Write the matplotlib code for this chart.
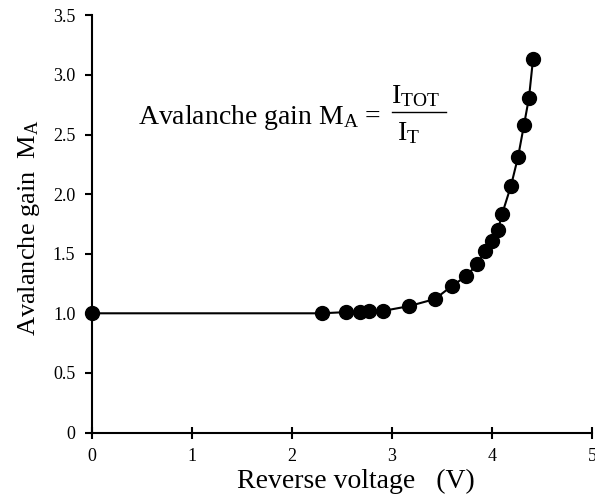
import matplotlib
matplotlib.use("Agg")
import matplotlib.pyplot as plt

plt.rcParams['font.family'] = ['Liberation Serif', 'DejaVu Serif']
plt.rcParams['mathtext.fontset'] = 'custom'
plt.rcParams['mathtext.rm'] = 'Liberation Serif'
plt.rcParams['mathtext.it'] = 'Liberation Serif:italic'
plt.rcParams['mathtext.bf'] = 'Liberation Serif:bold'

voltage = [0.0, 2.30, 2.54, 2.68, 2.77, 2.91, 3.17, 3.43, 3.60, 3.74, 3.85,
           3.93, 4.00, 4.06, 4.10, 4.19, 4.26, 4.32, 4.37, 4.41]
gain = [1.00, 1.00, 1.01, 1.01, 1.02, 1.02, 1.06, 1.12, 1.23, 1.31, 1.41,
        1.52, 1.61, 1.70, 1.83, 2.07, 2.31, 2.58, 2.81, 3.13]
xticks = [0, 1, 2, 3, 4, 5]
yticks = [0, 0.5, 1.0, 1.5, 2.0, 2.5, 3.0, 3.5]
yticklabels = ['0', '0.5', '1.0', '1.5', '2.0', '2.5', '3.0', '3.5']

fig = plt.figure(figsize=(5.95, 5.01), dpi=100)
ax = fig.add_axes([92/595, 1 - 432.5/501, 500/595, 417.2/501])

ax.plot(voltage, gain, color='black', lw=1.5, marker='o', ms=10,
        markerfacecolor='black', markeredgecolor='black', clip_on=False, zorder=3)

ax.set_xlim(0, 5)
ax.set_ylim(0, 3.5)
ax.set_xticks(xticks)
ax.set_yticks(yticks)
ax.set_yticklabels(yticklabels)
ax.spines['top'].set_visible(False)
ax.spines['right'].set_visible(False)
for s in ('left', 'bottom'):
    ax.spines[s].set_linewidth(1.5)
ax.tick_params(axis='x', direction='inout', length=8, width=1.5, labelsize=13, pad=7)
ax.tick_params(axis='y', direction='out', length=5, width=1.5, labelsize=13, pad=7)

ax.set_xlabel('Reverse voltage   (V)', fontsize=20)
ax.xaxis.set_label_coords(0.528, -0.088)
ax.set_ylabel(r'Avalanche gain  M$_{\rm A}$', fontsize=19)
ax.yaxis.set_label_coords(-0.1, 0.49)

ax.text(0.46, 2.584, r'Avalanche gain M$_{\rm A}$ = ', fontsize=20,
        ha='left', va='baseline')
ax.text(3.23, 2.76, r'I$_{\rm TOT}$', fontsize=20, ha='center', va='baseline')
ax.text(3.17, 2.45, r'I$_{\rm T}$', fontsize=20, ha='center', va='baseline')
ax.plot([3.00, 3.54], [2.69, 2.69], color='black', lw=1.0)

fig.savefig('out.png', dpi=100)
